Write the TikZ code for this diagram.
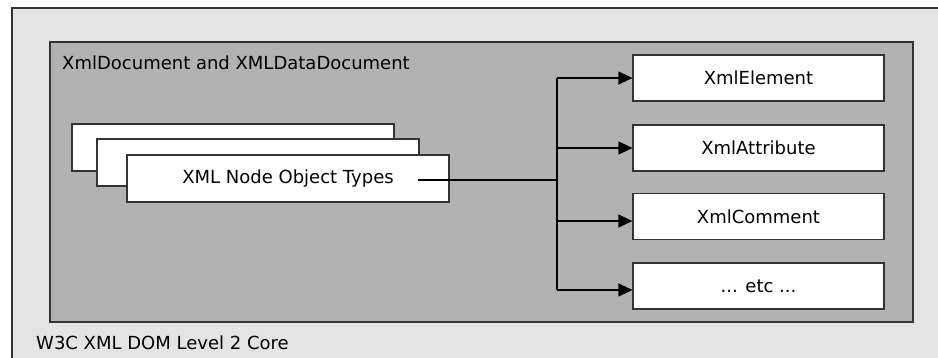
\documentclass[tikz,border=0pt]{standalone}
\usepackage{fontspec}
\setmainfont{DejaVu Sans}
\usetikzlibrary{arrows.meta}
\definecolor{outerfill}{HTML}{E4E4E4}
\definecolor{innerfill}{HTML}{B2B2B2}
\definecolor{edge}{HTML}{333333}
\begin{document}
\begin{tikzpicture}[x=1pt,y=-1pt,
  frame/.style={draw=edge,line width=1.2pt},
  card/.style={frame,fill=white,rectangle,minimum width=322pt,minimum height=47pt,inner sep=0pt},
  kind/.style={frame,fill=white,rectangle,minimum width=251pt,minimum height=46pt,inner sep=0pt},
  label/.style={font=\fontsize{18}{21}\selectfont,inner sep=0pt},
  link/.style={draw=black,line width=1.2pt},
  arr/.style={link,-{Triangle[length=14pt,width=13pt]}}]
\useasboundingbox (0,0) rectangle (938,358);
\fill[white] (0,0) rectangle (938,358);
% outer layer: W3C DOM core
\draw[frame,fill=outerfill] (12,8) rectangle (960,380);
\node[label,anchor=base west] (core) at (36,349) {W3C XML DOM Level 2 Core};
% inner layer: document classes
\draw[frame,fill=innerfill] (50,42) rectangle (913,322);
\node[label,anchor=base west] (doc) at (62,70) {XmlDocument and XMLDataDocument};
% stack of node type cards
\node[card] (t1) at (233,147.5) {};
\node[card] (t2) at (258,162.5) {};
\node[card,label] (t3) at (288,178.5) {XML Node Object Types};
% concrete node classes
\node[kind,label] (e1) at (758.5,78) {XmlElement};
\node[kind,label] (e2) at (758.5,148) {XmlAttribute};
\node[kind,label] (e3) at (758.5,216.5) {XmlComment};
\node[kind,label] (e4) at (758.5,286) {... etc ...};
% connectors
\coordinate (src) at (418,180);
\coordinate (bus) at (557,180);
\coordinate (j1) at (557,78);
\coordinate (j2) at (557,148);
\coordinate (j3) at (557,221);
\coordinate (j4) at (557,290);
\draw[link] (src) -- (bus);
\draw[link] (j1) -- (j4);
\draw[arr] (j1) -- (j1 -| e1.west);
\draw[arr] (j2) -- (j2 -| e2.west);
\draw[arr] (j3) -- (j3 -| e3.west);
\draw[arr] (j4) -- (j4 -| e4.west);
\end{tikzpicture}
\end{document}
